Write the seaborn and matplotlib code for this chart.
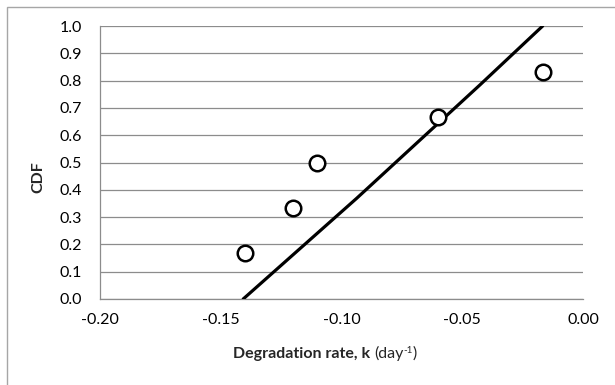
import numpy as np
import pandas as pd
import matplotlib
matplotlib.use("Agg")
import matplotlib.pyplot as plt
from matplotlib.patches import Rectangle
from matplotlib import font_manager as fm
import seaborn as sns

# Observed degradation rates and their empirical CDF
obs_k = [-0.140, -0.120, -0.110, -0.060, -0.0167]
obs_cdf = [0.1667, 0.3333, 0.5000, 0.6667, 0.8333]

# Fitted CDF curve
fit_k = [-0.1407, -0.0937, -0.0427, -0.0167]
fit_cdf = [0.0, 0.369, 0.784, 1.0]

x_ticks = [-0.20, -0.15, -0.10, -0.05, 0.00]
y_ticks = [0.0, 0.1, 0.2, 0.3, 0.4, 0.5, 0.6, 0.7, 0.8, 0.9, 1.0]

sns.set_style("white")

# pick a family whose bold face is really installed
family = "Lato"
bold_path = fm.findfont(fm.FontProperties(family=family, weight="bold"), fallback_to_default=False)
if "bold" not in bold_path.lower():
    family = "Open Sans"
plt.rcParams["font.family"] = [family, "DejaVu Sans"]
plt.rcParams["axes.unicode_minus"] = False

FS = 11.5
W, H = 615, 385
fig = plt.figure(figsize=(W / 100, H / 100), dpi=100)
ax = fig.add_axes([100 / W, (H - 299) / H, (583 - 100) / W, (299 - 26) / H])

obs = pd.DataFrame({"k": obs_k, "cdf": obs_cdf})
fit = pd.DataFrame({"k": fit_k, "cdf": fit_cdf})

sns.lineplot(data=fit, x="k", y="cdf", sort=False, color="black", lw=2.3, ax=ax, zorder=3)
sns.scatterplot(data=obs, x="k", y="cdf", marker="o", s=125, facecolor="white",
                edgecolor="black", linewidth=1.8, ax=ax, zorder=4)

grid_c = "#8c8c8c"
ax.set_xlim(-0.20, 0.00)
ax.set_ylim(0.0, 1.0)
ax.set_xticks(x_ticks)
ax.set_xticklabels([f"{v:.2f}" for v in x_ticks])
ax.set_yticks(y_ticks)
ax.set_yticklabels([f"{v:.1f}" for v in y_ticks])
ax.yaxis.grid(True, color=grid_c, lw=0.9)
ax.xaxis.grid(False)
ax.set_axisbelow(True)
for s in ["top", "right"]:
    ax.spines[s].set_visible(False)
for s in ["left", "bottom"]:
    ax.spines[s].set_color(grid_c)
    ax.spines[s].set_linewidth(0.9)
ax.tick_params(axis="both", which="major", direction="out", length=5, width=0.9,
               color=grid_c, labelsize=FS, labelcolor="black")
ax.tick_params(axis="y", pad=8)
ax.tick_params(axis="x", pad=5)
ax.set_xlabel("")
ax.set_ylabel("")

# x-axis title built from a bold part, a regular part and a superscript
renderer = fig.canvas.get_renderer()
parts = [("Degradation rate, k ", "bold", FS, 0), ("(day", "normal", FS, 0),
         ("-1", "normal", FS * 0.62, 5), (")", "normal", FS, 0)]
items = []
for txt, wt, sz, dy in parts:
    t = fig.text(0, 0, txt, fontsize=sz, fontweight=wt, va="baseline", ha="left")
    items.append((t, dy))
widths = [t.get_window_extent(renderer).width for t, _ in items]
x0 = 325 - sum(widths) / 2
base = H - 358
for (t, dy), w in zip(items, widths):
    t.set_position((x0 / W, (base + dy) / H))
    x0 += w

fig.text(38 / W, 1 - 177 / H, "CDF", rotation=90, ha="center", va="center",
         fontsize=FS, fontweight="bold")

# chart-area frame
fig.patches.append(Rectangle((7 / W, -0.05), 1.1, 1 - 7 / H + 0.05, transform=fig.transFigure,
                             fill=False, edgecolor="#a6a6a6", lw=1.0))

fig.savefig("out.png", dpi=100)
